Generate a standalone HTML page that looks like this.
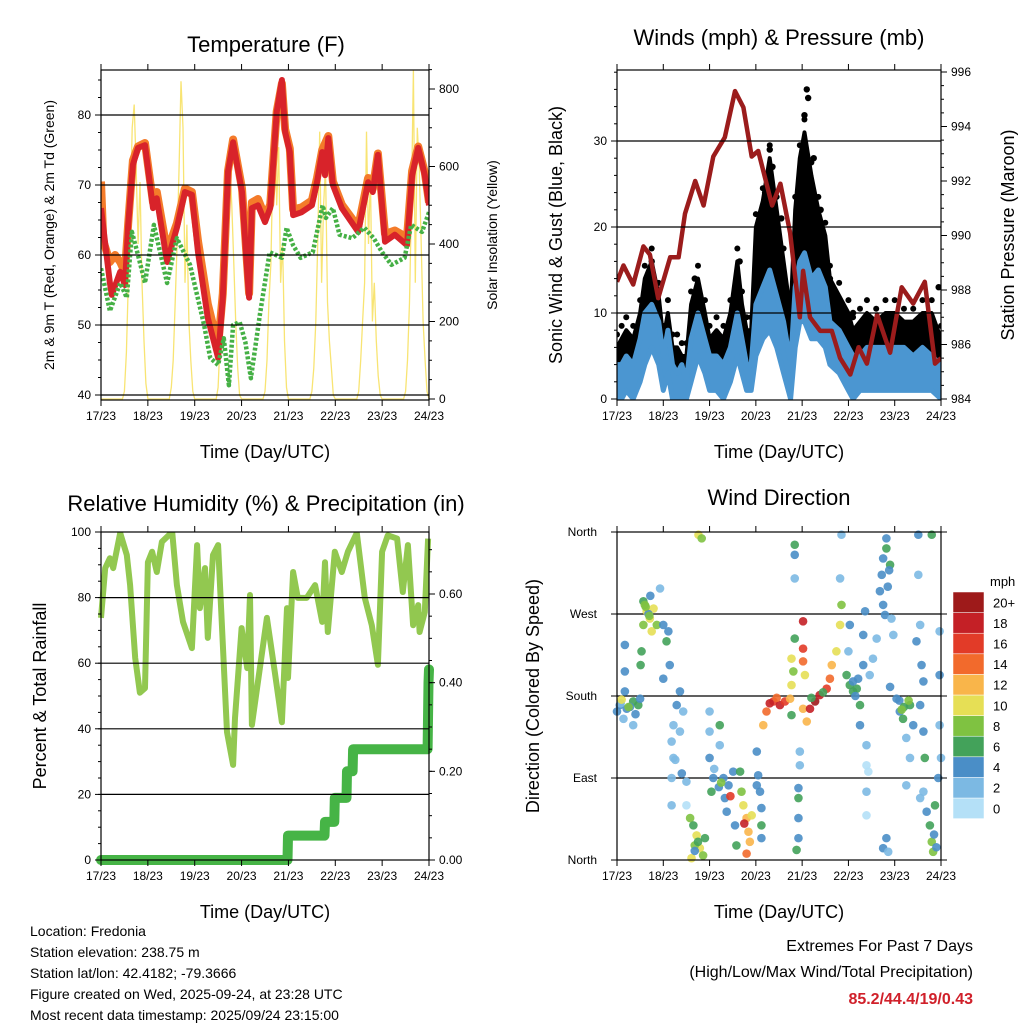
<!DOCTYPE html>
<html><head><meta charset="utf-8">
<style>
html,body{margin:0;padding:0;background:#fff;}
svg{display:block;font-family:"Liberation Sans",sans-serif;}
</style></head>
<body>
<svg id="root" width="1024" height="1024" viewBox="0 0 1024 1024" xmlns="http://www.w3.org/2000/svg">
<rect width="1024" height="1024" fill="#fff"/>
<g id="layer"></g>
<g font-size="14" fill="#000">
<text x="30" y="936">Location: Fredonia</text>
<text x="30" y="957">Station elevation: 238.75 m</text>
<text x="30" y="978">Station lat/lon: 42.4182; -79.3666</text>
<text x="30" y="999">Figure created on Wed, 2025-09-24, at 23:28 UTC</text>
<text x="30" y="1020">Most recent data timestamp: 2025/09/24 23:15:00</text>
</g>
<g font-size="16" text-anchor="end">
<text x="973" y="951">Extremes For Past 7 Days</text>
<text x="973" y="977">(High/Low/Max Wind/Total Precipitation)</text>
<text x="973" y="1004" fill="#d0202a" font-weight="bold">85.2/44.4/19/0.43</text>
</g>
</svg>
<script>
// ---------- DATA ----------
const dayLabels = ["17/23","18/23","19/23","20/23","21/23","22/23","23/23","24/23"];
const t2Time = [0,.19,.23,.41,.51,.58,.68,.79,.94,1.11,1.19,1.41,1.62,1.79,1.94,2.07,2.28,2.5,2.6,2.71,2.82,3.01,3.12,3.16,3.22,3.35,3.5,3.61,3.75,3.86,3.93,4.03,4.1,4.28,4.5,4.61,4.72,4.78,4.85,4.95,5.14,5.49,5.7,5.8,5.91,6.06,6.27,6.53,6.64,6.77,6.91,7];
const t2Vals = [66.7,56,54.3,57.6,55.7,64.3,72.9,75.3,75.7,66.7,68.1,59,63.9,69,68.6,60.4,51,45.3,53.9,71.9,76.1,69,57.6,53.9,66.7,67.1,64.7,66.7,80.4,85,77.6,74.7,65.7,66.1,67.1,70.4,74.7,71.4,76.7,70,66.7,63.3,70.4,69,74.3,61.9,62.9,61.4,71.4,75.3,71.4,67.1];
const t9Time = [0,.05,.19,.3,.41,.51,.58,.68,.79,.94,1.11,1.19,1.41,1.62,1.79,1.94,2.07,2.28,2.5,2.6,2.71,2.82,3.01,3.12,3.16,3.22,3.35,3.5,3.61,3.75,3.86,3.93,4.03,4.1,4.28,4.5,4.61,4.72,4.85,4.95,5.14,5.49,5.7,5.8,5.91,6.06,6.27,6.53,6.64,6.77,6.91,7];
const t9Vals = [70.5,62,59,60,59,57.5,64.5,73.5,75.5,76,67.5,69,60.5,64.5,69.5,69,62,53,47,54.5,72,76.5,69.5,58.5,54.5,67.5,68,65.5,67.2,80.5,84.5,78,75.2,66.5,66.8,67.8,71,75,77,70.5,67.2,64,71,69.5,74.5,63,63.5,62.5,72,75.5,71.8,67.5];
const tdTime = [0,.19,.41,.55,.66,.79,.94,1.13,1.41,1.62,1.9,2.2,2.33,2.5,2.62,2.73,2.82,2.96,3.08,3.2,3.39,3.6,3.86,3.96,4.1,4.26,4.52,4.73,4.8,4.95,5.09,5.36,5.62,5.82,6,6.2,6.48,6.62,6.85,7];
const tdVals = [58.1,52,56,53.9,63.3,60,56,64.3,56,62.4,58.6,50,45.3,44.3,48.1,41.4,50,50.4,47.6,42.4,51.4,60.4,59.6,63.9,61.4,59.6,60.4,67.1,65.3,66.7,62.9,62.4,63.9,62.4,60.4,58.6,59.6,64.3,63.3,66.1];
const solarVals = [
0,0,0,0,0,0,0,0,0,0,0,0,20,120,300,480,700,760,600,400,560,300,150,40,
0,0,0,0,0,0,0,0,0,0,0,0,30,100,250,400,600,820,700,300,450,200,100,20,
0,0,0,0,0,0,0,0,0,0,0,0,30,150,330,480,600,640,600,500,350,200,80,10,
0,0,0,0,0,0,0,0,0,0,0,0,20,100,250,350,600,740,500,650,300,400,150,30,
0,0,0,0,0,0,0,0,0,0,0,0,20,80,200,400,690,300,500,600,250,150,80,10,
0,0,0,0,0,0,0,0,0,0,0,0,20,100,200,300,690,400,580,200,300,150,60,10,
0,0,0,0,0,0,0,0,0,0,0,0,20,100,250,500,850,300,700,600,400,200,100,20,0];
const windTime = [0,.1,.2,.35,.5,.6,.75,.9,1.0,1.1,1.2,1.3,1.4,1.5,1.6,1.75,1.9,2.0,2.15,2.3,2.45,2.6,2.7,2.8,2.9,3.0,3.15,3.3,3.45,3.6,3.75,3.85,3.95,4.05,4.2,4.35,4.5,4.6,4.8,5.0,5.1,5.25,5.4,5.6,5.8,6.0,6.2,6.4,6.6,6.8,7.0];
const windVals = [4,4,5,4,7,10,11,9,5,8,4,3,4,2,7,10,7,5,5,4,6,10,7,4,4,11,13,15,12,9,4,13,16,17,14,15,13,9,8,6,5,5,6,6,6,6,6,5,6,5,4];
const windLow = [0,0,1,0,2,4,6,4,1,3,0,0,0,0,2,5,3,1,1,0,2,5,3,1,1,5,7,8,6,3,0,6,9,9,7,7,6,4,3,1,0,1,1,1,1,1,1,1,1,1,0];
const gustVals = [6,7,8,7,10,14,16,12,7,10,6,6,5,5,11,14,10,7,8,7,10,16,11,8,8,20,23,28,22,16,10,22,28,31,26,22,19,14,12,10,8,9,10,9,10,10,9,9,10,10,7];
const gustPeakTime = [.75,1.68,2.65,3.2,3.3,3.36,3.55,3.95,4.05,4.1,4.13,4.25,4.4,4.6,5.1,6.95];
const gustPeakVals = [16,14,16,24,29,27,21,26,33,36,35,28,22,14,10,13];
const presTime = [0,.14,.35,.57,.71,.89,1.15,1.33,1.47,1.69,1.87,2.08,2.33,2.55,2.73,2.91,3.05,3.35,3.53,3.74,3.95,4.02,4.17,4.39,4.64,4.82,5.04,5.22,5.4,5.62,5.9,6.15,6.4,6.65,6.87,7];
const presVals = [988.3,988.9,988.2,989.6,989.3,987.7,989.2,989.2,990.8,992,991.1,992.9,993.6,995.3,994.7,992.9,993.1,991.1,991.9,990.1,987,988.7,987,986.5,986.5,985.5,984.9,985.9,985.3,987.1,985.7,988.1,987.5,988.3,985.3,985.5];
const rhTime = [0,.09,.19,.26,.41,.55,.62,.73,.83,.94,1.0,1.09,1.19,1.3,1.52,1.62,1.75,1.94,2.05,2.11,2.22,2.28,2.39,2.5,2.69,2.82,2.86,3.0,3.12,3.18,3.22,3.54,3.71,3.86,3.97,3.99,4.1,4.2,4.39,4.57,4.72,4.78,4.84,4.99,5.14,5.27,5.46,5.63,5.78,5.91,6.0,6.12,6.32,6.44,6.55,6.66,6.77,6.8,6.91,6.98];
const rhVals = [73.8,89,92,89,99.7,93,83.8,61.6,51,52.4,90.8,94,87.8,97,100,83.8,72.6,64.6,96,76.8,89,67.7,93,96,39,29,43.3,70.7,58.5,80.8,41.2,73.8,57.3,42,76.8,55.5,87.8,79.9,79.9,83.8,72.6,90.8,69.5,94,87.8,94,99.7,79.9,71.6,59.5,94,99,98,81.7,96,71.6,77.7,69.5,75.6,98];
const rainTime = [0,3.98,3.99,4.77,4.78,4.98,4.99,5.24,5.25,5.37,5.38,6.97,6.99,7];
const rainVals = [0,0,0.055,0.055,0.086,0.086,0.14,0.14,0.2,0.2,0.25,0.25,0.40,0.43];
const dirTime = [0,.06,.21,.35,.46,.14,.35,.17,.17,.17,.5,.57,.64,.71,.79,.75,.57,.86,.53,.51,.93,1.0,1.07,1.11,1.14,1.0,1.36,1.29,1.43,1.22,1.18,1.22,1.18,1.5,1.18,1.5,1.36,1.58,1.65,1.72,1.79,1.86,1.68,1.61,1.9,1.76,1.83,2.0,2.08,2.04,2.0,2.0,2.22,2.22,2.3,2.33,2.37,2.51,2.55,2.41,2.58,2.66,2.69,2.73,2.8,2.84,2.87,2.8,2.91,3.02,3.05,3.09,3.12,3.12,3.02,3.12,3.16,3.23,3.38,3.52,3.63,3.74,3.77,3.81,3.77,3.84,3.77,3.84,3.84,3.84,4.02,4.02,4.02,4.06,4.02,4.1,4.17,4.28,4.38,4.53,4.6,4.64,4.74,4.82,4.85,4.82,4.85,3.95,3.95,3.92,3.92,3.92,3.88,3.92,4.96,5.03,5.1,5.18,5.21,5.25,5.25,5.32,5.0,5.03,5.39,5.39,5.39,5.39,5.43,5.46,5.53,5.61,5.32,5.36,5.68,5.72,5.75,5.82,5.82,5.9,5.79,5.75,5.93,5.97,5.82,5.75,5.86,6.04,6.11,6.18,6.33,6.4,6.25,6.33,6.25,6.47,6.55,6.51,6.51,6.58,6.62,6.55,6.62,6.65,6.62,6.55,6.69,6.76,6.8,6.83,6.87,6.8,6.97,6.97,6.97,7.0,6.94,.08,.28,.4,1.26,1.4,2.1,2.2,5.9,6.1,6.2,.6,.68,.72,.1,.25,.62,.7,1.68,1.75,2.25,2.45,2.75,3.3,3.45,4.2,4.45,5.1,5.15,5.85,5.88,6.15,6.3,6.85,6.9];
const dirVals = [163,170,166,174,170,155,148,236,207,185,177,284,273,265,276,251,258,258,229,214,298,258,240,251,214,199,185,170,163,148,130,112,90,86,60,60,141,46,38,27,13,5,16,2,24,357,353,112,90,75,141,163,148,126,90,68,53,97,38,82,16,97,75,60,46,31,20,7,49,119,93,75,57,24,82,38,148,163,174,170,174,177,192,207,221,243,159,309,335,346,262,232,218,203,166,152,166,174,181,188,199,214,229,258,280,309,357,119,104,79,46,24,11,68,203,192,185,188,199,170,148,214,229,258,126,104,75,49,97,203,221,243,247,273,295,313,331,342,353,324,269,280,265,247,24,13,9,177,163,155,170,148,134,112,82,240,258,313,357,214,196,170,141,112,75,68,53,38,20,9,60,357,251,203,148,112,90,172,168,160,110,95,100,80,190,175,168,280,270,290,176,168,278,268,10,20,85,70,40,172,178,178,184,196,180,300,318,165,175,28,14];
const dirSpd = [3,4,4,6,6,2,2,4,4,4,4,6,10,10,10,10,8,8,6,6,2,4,6,4,4,4,4,4,2,2,2,2,2,2,2,0,2,8,6,10,10,8,8,10,6,10,8,4,4,6,2,2,6,2,4,4,4,4,4,4,6,6,8,10,12,12,12,14,10,4,4,4,4,4,4,6,12,14,16,18,16,12,10,8,10,6,6,2,4,6,18,16,14,10,12,12,18,20,18,16,14,12,10,10,8,2,2,2,2,4,4,4,6,6,6,6,6,6,4,6,4,4,2,4,2,0,2,0,0,2,2,2,4,4,4,4,4,6,4,6,4,4,2,2,4,4,2,4,4,6,6,4,2,2,2,4,2,2,4,4,4,4,4,6,2,2,4,6,8,8,6,6,2,4,2,2,4,2,4,4,2,4,2,4,4,4,6,8,4,4,10,8,8,8,4,6,8,16,18,18,14,6,6,4,4,4,4,8,8];
const spdLabels = ["0","2","4","6","8","10","12","14","16","18","20+"];
const spdColors = ["#b4e0f7","#7cb9e3","#4a8ec7","#43a25a","#7fc241","#e6df55","#f9b54a","#f26a2c","#e23b28","#c42026","#9e1a1a"];

// ---------- DRAWING ----------
const NS="http://www.w3.org/2000/svg";
const layer=document.getElementById('layer');
function mk(tag,attrs,parent){const e=document.createElementNS(NS,tag);for(const k in attrs)e.setAttribute(k,attrs[k]);(parent||layer).appendChild(e);return e;}
function txt(s,attrs,parent){const e=mk('text',attrs,parent);e.textContent=s;return e;}
function panel(name,x0,y0,x1,y1){
  const g=mk('g',{});
  
  
  return {g,x0,y0,x1,y1,xs:t=>x0+t*(x1-x0)/7};
}
function lin(d0,d1,p0,p1){return v=>p0+(v-d0)*(p1-p0)/(d1-d0);}
function pathD(xs,ys,X,Y){let d='';for(let i=0;i<xs.length;i++){d+=(i?'L':'M')+X(xs[i]).toFixed(1)+','+Y(ys[i]).toFixed(1);}return d;}
function bandD(xs,lo,hi,X,Y){let d='';for(let i=0;i<xs.length;i++)d+=(i?'L':'M')+X(xs[i]).toFixed(1)+','+Y(hi[i]).toFixed(1);for(let i=xs.length-1;i>=0;i--)d+='L'+X(xs[i]).toFixed(1)+','+Y(lo[i]).toFixed(1);return d+'Z';}

function frame(P,title,tx,ty){
  const t=txt(title,{x:tx,y:ty,'text-anchor':'middle','font-size':22},P.g);
  
  
  const xt=txt('Time (Day/UTC)',{x:(P.x0+P.x1)/2,y:P.y1+58,'text-anchor':'middle','font-size':18},P.g);
  
  
  for(let i=0;i<8;i++){
    const x=P.xs(i);
    mk('line',{x1:x,x2:x,y1:P.y1,y2:P.y1+6,stroke:'#000','stroke-width':1},P.g);
    mk('line',{x1:x,x2:x,y1:P.y0,y2:P.y0-6,stroke:'#000','stroke-width':1},P.g);
    const l=txt(dayLabels[i],{x:x,y:P.y1+20,'text-anchor':'middle','font-size':12},P.g);
    
    
  }
}
function yAxis(P,side,ticks,labels,Y,minor,cls){
  const x=side==='l'?P.x0:P.x1, dir=side==='l'?-1:1;
  ticks.forEach((v,i)=>{
    const y=Y(v);
    mk('line',{x1:x,x2:x+dir*6,y1:y,y2:y,stroke:'#000','stroke-width':1},P.g);
    const l=txt(labels[i],{x:x+dir*10,y:y+4,'text-anchor':side==='l'?'end':'start','font-size':12},P.g);
    
    
  });
  minor.forEach(v=>{const y=Y(v);if(y>=P.y0-0.5&&y<=P.y1+0.5)mk('line',{x1:x,x2:x+dir*3,y1:y,y2:y,stroke:'#000','stroke-width':1},P.g);});
}
function grid(P,vals,Y){vals.forEach(v=>{const y=Y(v);mk('line',{x1:P.x0,x2:P.x1,y1:y,y2:y,stroke:'#000','stroke-width':1.2},P.g);});}
function box(P){mk('rect',{x:P.x0,y:P.y0,width:P.x1-P.x0,height:P.y1-P.y0,fill:'none',stroke:'#000','stroke-width':1.2},P.g);}
function yTitle(P,s,x,size){const y=(P.y0+P.y1)/2;const t=txt(s,{x:x,y:y,'text-anchor':'middle','font-size':size,transform:`rotate(-90 ${x} ${y})`},P.g);}
function range(a,b,s){const r=[];for(let v=a;v<=b+1e-9;v+=s)r.push(+v.toFixed(4));return r;}

// ===== Panel 1 =====
(function(){
  const P=panel('temperature-panel',101,70,429,400);
  const Y=lin(40,80,395,115), Ys=lin(0,800,399,89);
  const clip=mk('clipPath',{id:'c1'},P.g);mk('rect',{x:P.x0,y:P.y0,width:P.x1-P.x0,height:P.y1-P.y0},clip);
  const dg=mk('g',{'clip-path':'url(#c1)'},P.g);
  grid(P,[40,50,60,70,80],Y);
  const sTimes=solarVals.map((v,i)=>i/24);
  const s=mk('path',{d:pathD(sTimes,solarVals,P.xs,Ys),fill:'none',stroke:'#f7df5a','stroke-width':1.3,'stroke-opacity':0.85},dg);
  
  
  const o=mk('path',{d:pathD(t9Time,t9Vals,P.xs,Y),fill:'none',stroke:'#f47b2a','stroke-width':8,'stroke-linejoin':'round'},dg);
  
  
  const r=mk('path',{d:pathD(t2Time,t2Vals,P.xs,Y),fill:'none',stroke:'#d8232a','stroke-width':6,'stroke-linejoin':'round'},dg);
  
  
  const g=mk('path',{d:pathD(tdTime,tdVals,P.xs,Y),fill:'none',stroke:'#45b045','stroke-width':4.5,'stroke-dasharray':'3,2','stroke-linejoin':'round'},dg);
  
  
  box(P);
  yAxis(P,'l',[40,50,60,70,80],['40','50','60','70','80'],Y,range(40,85,2.5),'y-tick-label');
  yAxis(P,'r',[0,200,400,600,800],['0','200','400','600','800'],Ys,range(0,850,50),'y2-tick-label');
  frame(P,'Temperature (F)',266,52);
  yTitle(P,'2m & 9m T (Red, Orange) & 2m Td (Green)',54,14);
  const t2=txt('Solar Insolation (Yellow)',{x:0,y:0,'text-anchor':'middle','font-size':14,transform:`translate(497,${(P.y0+P.y1)/2}) rotate(-90)`},P.g);
  
  
})();

// ===== Panel 2 =====
(function(){
  const P=panel('winds-panel',617,70,941,400);
  const Y=lin(0,30,399,141), Yp=lin(984,996,399,72);
  const clip=mk('clipPath',{id:'c2'},P.g);mk('rect',{x:P.x0,y:P.y0,width:P.x1-P.x0,height:P.y1-P.y0},clip);
  const dg=mk('g',{'clip-path':'url(#c2)'},P.g);
  grid(P,[10,20,30],Y);
  const gb=mk('path',{d:bandD(windTime,windVals,gustVals,P.xs,Y),fill:'#000',stroke:'#000','stroke-width':4,'stroke-linejoin':'round'},dg);
  
  
  windTime.forEach((t,i)=>{const c=mk('circle',{cx:P.xs(t),cy:Y(gustVals[i]+1.5),r:3,fill:'#000'},dg);
    
    });
  gustPeakTime.forEach((t,i)=>{const c=mk('circle',{cx:P.xs(t),cy:Y(gustPeakVals[i]),r:3.2,fill:'#000'},dg);
    
    });
  const bb=mk('path',{d:bandD(windTime,windLow,windVals,P.xs,Y),fill:'#4b96d1',stroke:'#4b96d1','stroke-width':5,'stroke-linejoin':'round'},dg);
  
  
  const pl=mk('path',{d:pathD(presTime,presVals,P.xs,Yp),fill:'none',stroke:'#9b1c1c','stroke-width':4.5,'stroke-linejoin':'round'},dg);
  
  
  box(P);
  yAxis(P,'l',[0,10,20,30],['0','10','20','30'],Y,range(0,38,2),'y-tick-label');
  yAxis(P,'r',[984,986,988,990,992,994,996],['984','986','988','990','992','994','996'],Yp,range(984,996,0.5),'y2-tick-label');
  frame(P,'Winds (mph) & Pressure (mb)',779,45);
  yTitle(P,'Sonic Wind & Gust (Blue, Black)',562,18);
  const t2=txt('Station Pressure (Maroon)',{x:0,y:0,'text-anchor':'middle','font-size':18,transform:`translate(1014,${(P.y0+P.y1)/2}) rotate(-90)`},P.g);
  
  
})();

// ===== Panel 3 =====
(function(){
  const P=panel('humidity-panel',101,532,429,860);
  const Y=lin(0,100,860,532), Yr=lin(0,0.6,860,594);
  const clip=mk('clipPath',{id:'c3'},P.g);mk('rect',{x:P.x0-8,y:P.y0,width:P.x1-P.x0+16,height:P.y1-P.y0+8},clip);
  const dg=mk('g',{'clip-path':'url(#c3)'},P.g);
  grid(P,[20,40,60,80],Y);
  const rh=mk('path',{d:pathD(rhTime,rhVals,P.xs,Y),fill:'none',stroke:'#92c850','stroke-width':6,'stroke-linejoin':'round'},dg);
  
  
  const rn=mk('path',{d:pathD(rainTime,rainVals,P.xs,Yr),fill:'none',stroke:'#46b446','stroke-width':10,'stroke-linejoin':'round','stroke-linecap':'round'},dg);
  
  
  box(P);
  yAxis(P,'l',[0,20,40,60,80,100],['0','20','40','60','80','100'],Y,range(0,100,5),'y-tick-label');
  yAxis(P,'r',[0,0.2,0.4,0.6],['0.00','0.20','0.40','0.60'],Yr,range(0,0.74,0.05),'y2-tick-label');
  frame(P,'Relative Humidity (%) & Precipitation (in)',266,511);
  yTitle(P,'Percent & Total Rainfall',46,18);
})();

// ===== Panel 4 =====
(function(){
  const P=panel('wind-direction-panel',617,532,941,860);
  const Y=lin(0,360,860,532);
  grid(P,[90,180,270],Y);
  const dg=mk('g',{},P.g);
  const n=Math.min(dirTime.length,dirVals.length);
  for(let i=0;i<n;i++){
    const sp=(dirSpd[i]===undefined)?4:dirSpd[i];
    const idx=Math.max(0,Math.min(10,Math.round(sp/2)));
    const c=mk('circle',{cx:P.xs(dirTime[i]),cy:Y(dirVals[i]),r:4.3,fill:spdColors[idx],'fill-opacity':0.9},dg);
    
    
  }
  box(P);
  const dl=['North','East','South','West','North'];
  [0,90,180,270,360].forEach((v,i)=>{
    const y=Y(v);
    mk('line',{x1:P.x0,x2:P.x0-6,y1:y,y2:y,stroke:'#000'},P.g);
    mk('line',{x1:P.x1,x2:P.x1+6,y1:y,y2:y,stroke:'#000'},P.g);
    const l=txt(dl[i],{x:P.x0-20,y:y+4,'text-anchor':'end','font-size':12},P.g);
    
    
  });
  frame(P,'Wind Direction',779,505);
  yTitle(P,'Direction (Colored By Speed)',539,18);
  const cb=mk('g',{},P.g);
  
  
  const top=592,h=20.6;
  const u=txt('mph',{x:990,y:586,'font-size':13},cb);
  
  
  spdLabels.forEach((s,i)=>{
    const y=top+(10-i)*h;
    const r=mk('rect',{x:953,y:y,width:31,height:h,fill:spdColors[i],stroke:'#fff','stroke-width':0.5},cb);
    
    
    const l=txt(s,{x:993,y:y+h/2+5,'font-size':13},cb);
    
    
  });
})();
</script>
</body></html>
